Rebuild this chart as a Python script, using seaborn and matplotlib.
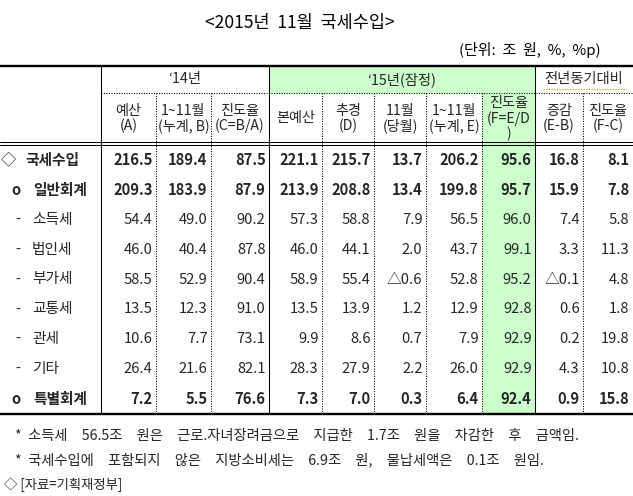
import numpy as np
import pandas as pd
import seaborn as sns
import matplotlib
matplotlib.use("Agg")
import matplotlib.pyplot as plt
from matplotlib.colors import ListedColormap
from matplotlib.patches import Rectangle

sns.set_theme(style="white")
plt.rcParams['font.family'] = ['Noto Sans CJK KR', 'DejaVu Sans']

# ---------------- data ----------------
title = "<2015년  11월  국세수입>"
unit = "(단위:  조  원,  %,  %p)"
categories = ['국세수입', '일반회계', '소득세', '법인세', '부가세', '교통세', '관세', '기타', '특별회계']
markers = ['◇', 'o', '-', '-', '-', '-', '-', '-', 'o']
bold_rows = [True, True, False, False, False, False, False, False, True]

budget14_A = [216.5, 209.3, 54.4, 46.0, 58.5, 13.5, 10.6, 26.4, 7.2]
cum14_B = [189.4, 183.9, 49.0, 40.4, 52.9, 12.3, 7.7, 21.6, 5.5]
prog14_C = [87.5, 87.9, 90.2, 87.8, 90.4, 91.0, 73.1, 82.1, 76.6]
budget15_main = [221.1, 213.9, 57.3, 46.0, 58.9, 13.5, 9.9, 28.3, 7.3]
budget15_D = [215.7, 208.8, 58.8, 44.1, 55.4, 13.9, 8.6, 27.9, 7.0]
nov15 = [13.7, 13.4, 7.9, 2.0, -0.6, 1.2, 0.7, 2.2, 0.3]
cum15_E = [206.2, 199.8, 56.5, 43.7, 52.8, 12.9, 7.9, 26.0, 6.4]
prog15_F = [95.6, 95.7, 96.0, 99.1, 95.2, 92.8, 92.9, 92.9, 92.4]
diff_EB = [16.8, 15.9, 7.4, 3.3, -0.1, 0.6, 0.2, 4.3, 0.9]
diff_FC = [8.1, 7.8, 5.8, 11.3, 4.8, 1.8, 19.8, 10.8, 15.8]

group_headers = ["‘14년", "‘15년(잠정)", "전년동기대비"]
sub_headers = ['예산\n(A)', '1~11월\n(누계, B)', '진도율\n(C=B/A)', '본예산', '추경\n(D)',
               '11월\n(당월)', '1~11월\n(누계, E)', '진도율\n(F=E/D\n)', '증감\n(E-B)', '진도율\n(F-C)']
footnotes = ["*  소득세\u300056.5조\u3000원은\u3000근로.자녀장려금으로\u3000지급한\u30001.7조\u3000원을\u3000차감한\u3000후\u3000금액임.",
             "*  국세수입에\u3000포함되지\u3000않은\u3000지방소비세는\u30006.9조\u3000원,\u3000물납세액은\u30000.1조\u3000원임."]
source = "◇ [자료=기획재정부]"

columns = [budget14_A, cum14_B, prog14_C, budget15_main, budget15_D,
           nov15, cum15_E, prog15_F, diff_EB, diff_FC]
table = pd.DataFrame(np.array(columns).T, index=categories)

# ---------------- layout (pixel coordinates) ----------------
W, H = 633, 496
col_edges = [101, 156, 211, 269, 322, 374, 426, 482, 535, 583, 633]
group_spans = [(101, 269), (269, 535), (535, 633)]
y_top, y_dot, y_hdr1, y_hdr2, y_bot = 66, 93, 141.5, 145, 414
row_h = (y_bot - y_hdr2) / len(categories)
green = '#ccffcc'

fig = plt.figure(figsize=(W / 100, H / 100), dpi=100)
ax = fig.add_axes([0, 0, 1, 1])
ax.set_xlim(0, W)
ax.set_ylim(H, 0)
ax.axis('off')

def fig_rect(x0, y0, x1, y1):
    return [x0 / W, 1 - y1 / H, (x1 - x0) / W, (y1 - y0) / H]

# green backgrounds
ax.add_patch(Rectangle((group_spans[1][0], y_top), group_spans[1][1] - group_spans[1][0],
                       y_dot - y_top, color=green, zorder=0))
ax.add_patch(Rectangle((col_edges[7], y_dot), col_edges[8] - col_edges[7],
                       y_hdr2 - y_dot, color=green, zorder=0))
# highlighted progress-rate column via seaborn heatmap
hax = fig.add_axes(fig_rect(col_edges[7], y_hdr2, col_edges[8], y_bot))
sns.heatmap(table.iloc[:, [7]], ax=hax, cmap=ListedColormap([green]), cbar=False,
            xticklabels=False, yticklabels=False, linewidths=0)
hax.axis('off')
hax.set_zorder(0)
ax.set_zorder(1)
ax.patch.set_alpha(0)

# lines
lw_thick = 1.7
lw_thin = 0.75
dots = (0, (1, 1.4))
ax.plot([0, W], [y_top, y_top], color='black', lw=lw_thick, solid_capstyle='butt')
ax.plot([0, W], [y_bot, y_bot], color='black', lw=lw_thick, solid_capstyle='butt')
ax.plot([0, W], [y_hdr1, y_hdr1], color='black', lw=lw_thin)
ax.plot([0, W], [y_hdr2, y_hdr2], color='black', lw=lw_thin)
ax.plot([col_edges[0], W], [y_dot, y_dot], color='black', lw=lw_thin, linestyle=dots)
for x in [101, 269, 535]:
    ax.plot([x, x], [y_top, y_bot], color='black', lw=lw_thin)
for x in [156, 211, 322, 374, 426, 482, 583]:
    ax.plot([x, x], [y_dot, y_bot], color='black', lw=lw_thin, linestyle=dots)

# texts
ax.text(300, 23, title, ha='center', va='center', fontsize=12.6, color='black')
ax.text(601, 50, unit, ha='right', va='center', fontsize=10.8, color='black')

for (x0, x1), lab in zip(group_spans, group_headers):
    ax.text((x0 + x1) / 2, (y_top + y_dot) / 2, lab, ha='center', va='center', fontsize=10.3)
# spell-check style underline under last group header
ax.plot([543, 626], [89, 89], color='#e0a040', lw=0.8, linestyle=(0, (1.2, 1.2)))

hdr_mid = (y_dot + y_hdr1) / 2 + 1
pitch = 15.5
for i, lab in enumerate(sub_headers):
    cx = (col_edges[i] + col_edges[i + 1]) / 2
    lines = lab.split('\n')
    n = len(lines)
    for k, ln in enumerate(lines):
        yy = hdr_mid + (k - (n - 1) / 2) * pitch
        ax.text(cx, yy, ln, ha='center', va='center', fontsize=10.2)

marker_x = {'◇': 8, 'o': 16, '-': 18}
label_x = {'◇': 25, 'o': 33, '-': 32}

def fmt(v):
    return ('△' + f"{abs(v):.1f}") if v < 0 else f"{v:.1f}"

for r, cat in enumerate(categories):
    cy = y_hdr2 + (r + 0.5) * row_h
    wt = 'bold' if bold_rows[r] else 'normal'
    m = markers[r]
    ax.text(marker_x[m], cy, m, ha='center', va='center', fontsize=11 if m == '◇' else 10.5,
            fontweight='bold' if m == 'o' else 'normal')
    ax.text(label_x[m], cy, cat, ha='left', va='center', fontsize=10.6, fontweight=wt)
    for c in range(len(columns)):
        ax.text(col_edges[c + 1] - 3.5, cy, fmt(table.iloc[r, c]), ha='right', va='center',
                fontsize=10.6, fontweight=wt)

for k, fn in enumerate(footnotes):
    ax.text(15, 436 + 24 * k, fn, ha='left', va='center', fontsize=10.3)
ax.text(4, 485, source, ha='left', va='center', fontsize=9.6)

fig.savefig('out.png', dpi=100)
